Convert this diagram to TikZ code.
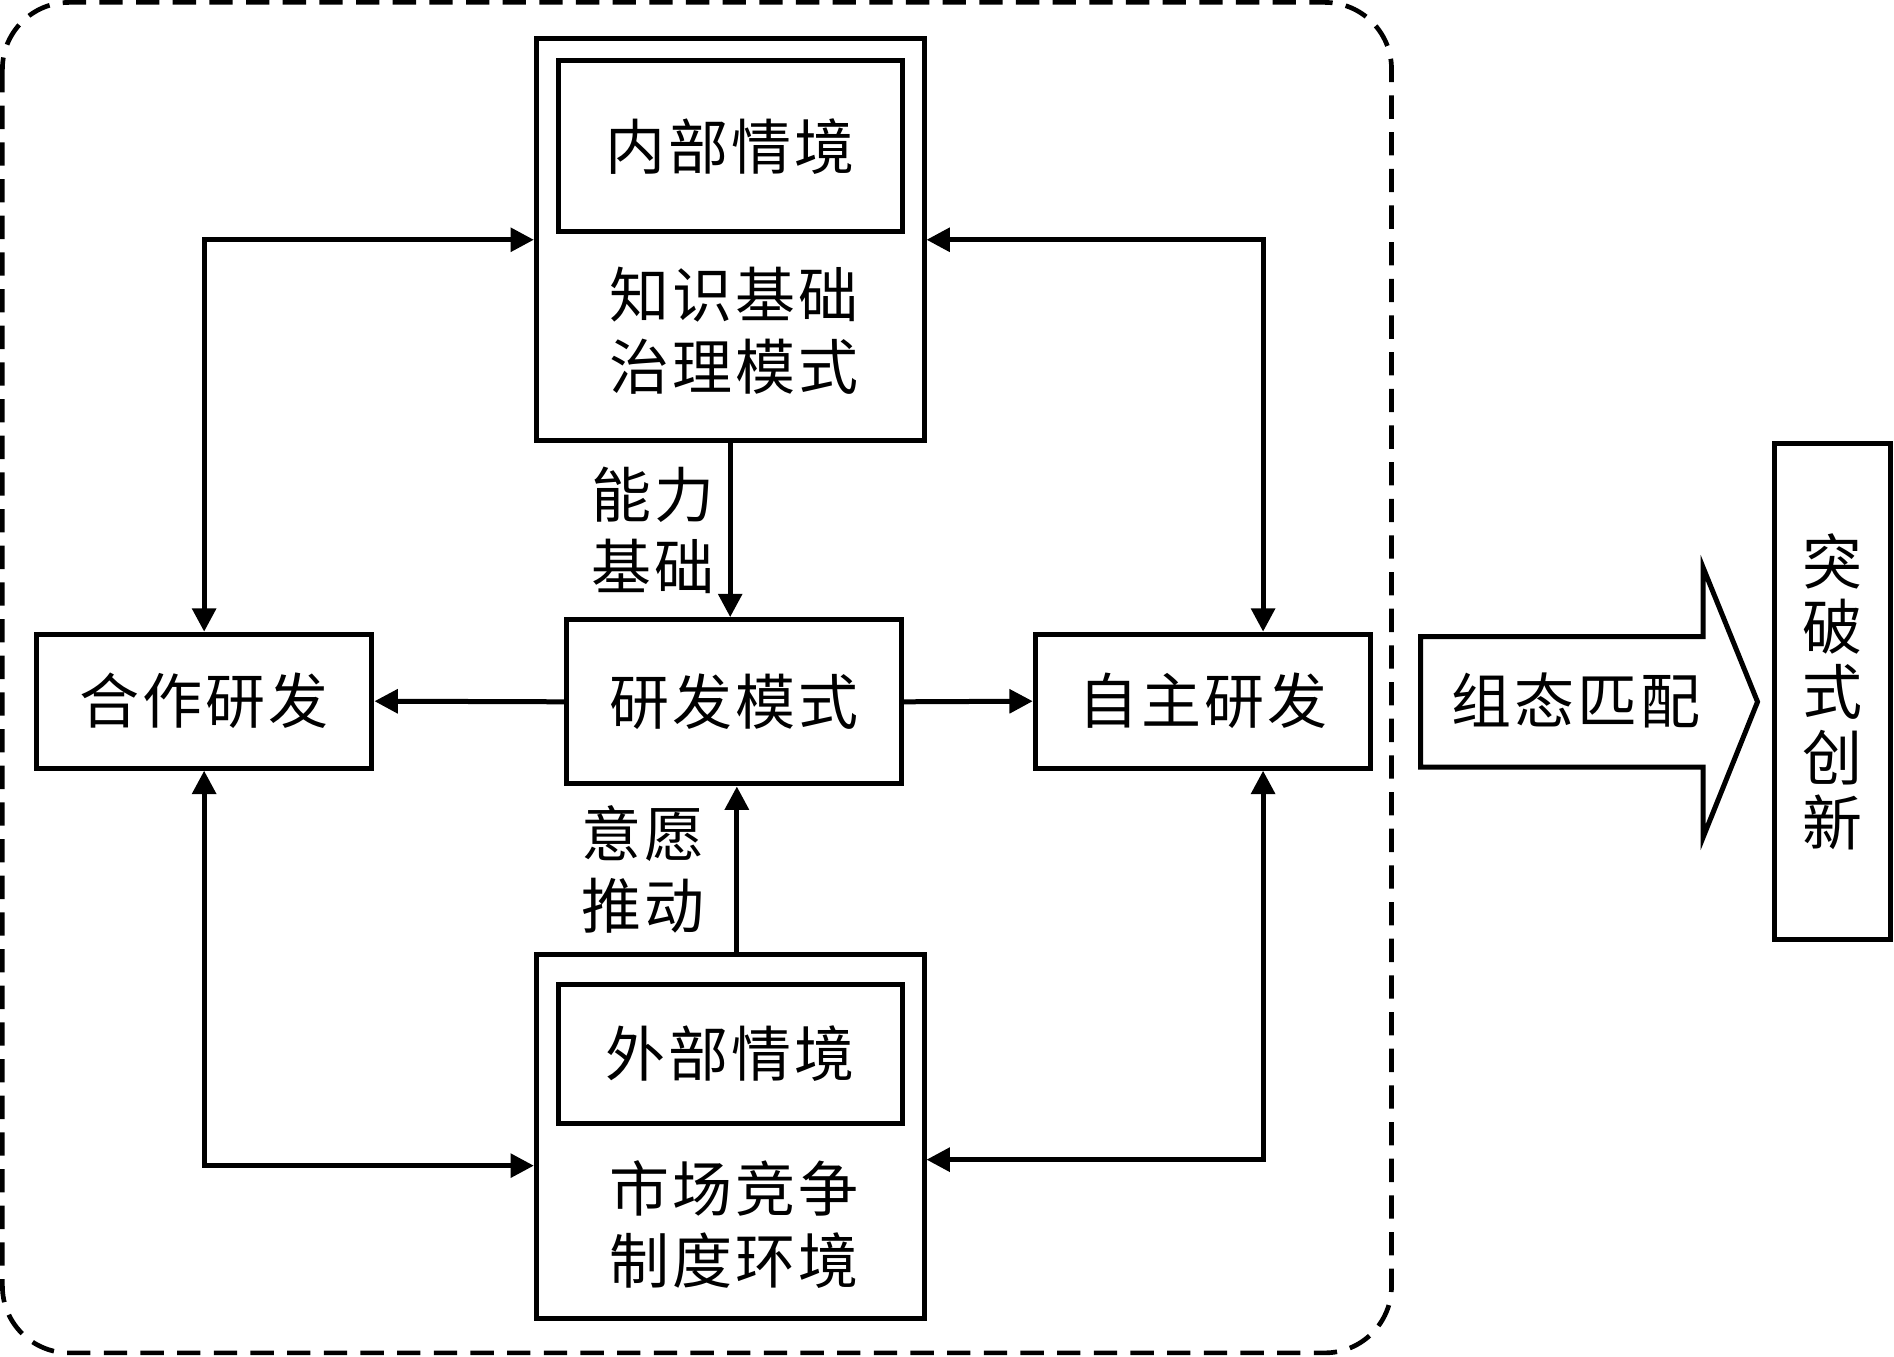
\documentclass[tikz,border=0pt]{standalone}
\usepackage{fontspec}
\newfontfamily\cjk{Noto Sans CJK SC}[LetterSpace=5]
\usetikzlibrary{arrows.meta,positioning,calc}
\tikzset{
  >={Triangle[length=7pt,width=7pt]},
}

\begin{document}
\begin{tikzpicture}[
  x=0.3624pt,y=-0.3624pt,
  font=\cjk\fontsize{18}{21.7}\selectfont,
  box/.style={draw,line width=1.5pt,inner sep=0pt,align=center},
  link/.style={line width=1.5pt},
]
\useasboundingbox (0,0) rectangle (1568,1123);

% dashed frame
\draw[line width=1.4pt,dash pattern=on 7pt off 4pt,rounded corners=20pt] (2,2) rectangle (1152,1120);

% internal context
\node[box,minimum width=116.3pt,minimum height=120.7pt] (inbox) at (604.5,198.5) {};
\node[box,minimum width=103.3pt,minimum height=51.5pt] (intitle) at (604.5,121) {内部情境};
\node[align=center] (inbase) at (608,274) {知识基础\\治理模式};

% R&D modes
\node[box,minimum width=100.4pt,minimum height=49.3pt] (mode) at (607.5,581) {研发模式};
\node[box,minimum width=100.7pt,minimum height=40.2pt] (coop) at (169,580.5) {合作研发};
\node[box,minimum width=100.7pt,minimum height=40.2pt] (self) at (996,580.5) {自主研发};

% external context
\node[box,minimum width=116.3pt,minimum height=109.4pt] (exbox) at (604.5,941) {};
\node[box,minimum width=103.3pt,minimum height=41.7pt] (extitle) at (604.5,872.5) {外部情境};
\node[align=center] (exbase) at (608,1014) {市场竞争\\制度环境};

% outcome
\node[box,minimum width=34.8pt,minimum height=149pt,
  font=\cjk\fontsize{18}{19.6}\selectfont] (outcome) at (1517,572.5) {突\\破\\式\\创\\新};
\draw[line width=1.5pt] (1176,527) -- (1410,527) -- (1410,470) -- (1455,581)
  -- (1410,693) -- (1410,635) -- (1176,635) -- cycle;
\node (match) at (1305,580) {组态匹配};

% links
\draw[link,->] (inbox.south) -- (inbox.south |- mode.north)
  node[midway,left=4pt,inner sep=0pt,align=center] (ability) {能力\\基础};
\draw[link,->] ([xshift=2pt]exbox.north) -- ([xshift=2pt]exbox.north |- mode.south)
  node[midway,left=9pt,inner sep=0pt,align=center] (will) {意愿\\推动};
\draw[link,->] (mode.west) -- (coop.east);
\draw[link,->] (mode.east) -- (self.west);
\draw[link,<->] (coop.north) |- (inbox.west);
\draw[link,<->] ([xshift=18pt]self.north) |- (inbox.east);
\draw[link,<->] (coop.south) |- ([yshift=-8.7pt]exbox.west);
\draw[link,<->] ([xshift=18pt]self.south) |- ([yshift=-6.9pt]exbox.east);
\end{tikzpicture}
\end{document}
